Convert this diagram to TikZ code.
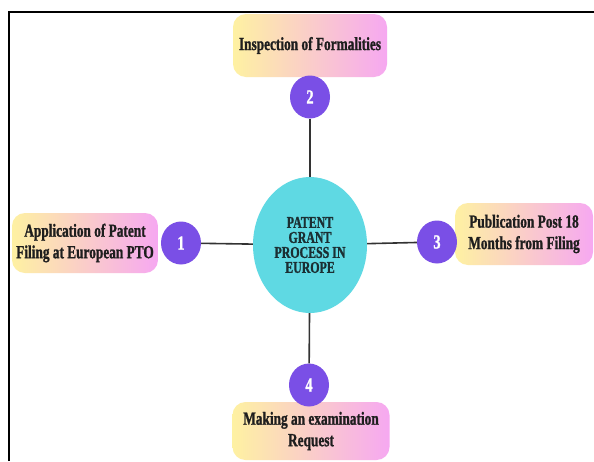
\documentclass[tikz,border=0pt]{standalone}
\usepackage{fontspec}
\setmainfont{Liberation Serif}[FakeStretch=0.72, BoldFeatures={FakeBold=1.2}]
\usetikzlibrary{shapes.geometric}
\definecolor{circ}{HTML}{7A4FE6}
\definecolor{cyanfill}{HTML}{5FD9E3}
\definecolor{gy}{HTML}{FEF1A2}
\definecolor{gm}{HTML}{FBCFCB}
\definecolor{gp}{HTML}{F6A8F1}
\definecolor{txt}{HTML}{1E1E1E}
\definecolor{ctxt}{HTML}{1B2F33}
\definecolor{lnk}{HTML}{333333}
\begin{document}
\begin{tikzpicture}[x=1pt,y=-1pt,
  boxnode/.style={rounded corners=13pt, left color=gy, middle color=gm, right color=gp,
    align=center, font=\fontsize{18.5}{21.5}\selectfont\bfseries, text=txt, inner sep=0pt},
  numnode/.style={ellipse, fill=circ, minimum width=40pt, minimum height=43pt, inner sep=0pt,
    text=white, font=\fontsize{20}{20}\selectfont\bfseries},
  centernode/.style={ellipse, fill=cyanfill, minimum width=114pt, minimum height=136pt, inner sep=0pt,
    align=center, text=ctxt, font=\fontsize{16.5}{15}\selectfont\bfseries},
  link/.style={draw=lnk, line width=1.6pt}]
\useasboundingbox (0,0) rectangle (594,461);
\fill[white] (0,0) rectangle (594,461);
\draw[line width=2pt] (9,461) -- (9,12) -- (594,12);

\node[centernode] (c) at (310,245) {PATENT\\GRANT\\PROCESS IN\\EUROPE};

\node[boxnode, minimum width=146pt, minimum height=60pt] (b1) at (85,243) {Application of Patent\\Filing at European PTO};
\node[boxnode, minimum width=154pt, minimum height=63pt] (b2) at (310,45.5) {Inspection of Formalities};
\node[boxnode, minimum width=138pt, minimum height=62pt] (b3) at (524,234) {Publication Post 18\\Months from Filing};
\node[boxnode, minimum width=157pt, minimum height=58pt] (b4) at (311,431) {Making an examination\\Request};

\node[numnode] (n1) at (181,243) {1};
\node[numnode] (n2) at (310,97) {2};
\node[numnode] (n3) at (437,242) {3};
\node[numnode] (n4) at (309,385) {4};

\draw[link] (n1) -- (c);
\draw[link] (c) -- (n3);
\draw[link] (n2) -- (c);
\draw[link] (c) -- (n4);
\end{tikzpicture}
\end{document}
